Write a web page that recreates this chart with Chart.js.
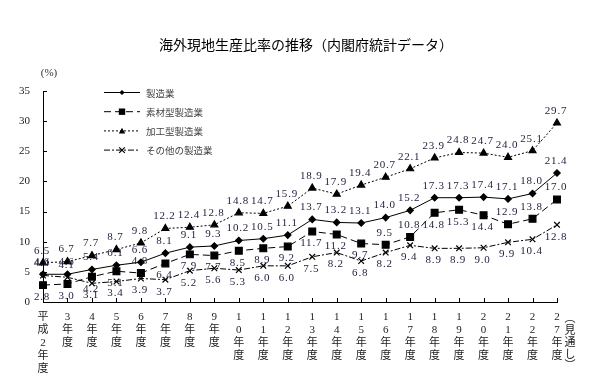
<!DOCTYPE html>
<html>
<head>
<meta charset="utf-8">
<script src="https://cdn.jsdelivr.net/npm/chart.js@4.4.1/dist/chart.umd.min.js"></script>
<style>
html,body{margin:0;padding:0;background:#fff;}
#wrap{width:589px;height:386px;}
</style>
</head>
<body>
<div id="wrap"><canvas id="c" width="589" height="386"></canvas></div>
<script>
// ---- data ----
const chartTitle = '海外現地生産比率の推移（内閣府統計データ）';
const unitLabel = '(%)';
const forecastNote = '見通し';
const categories = ['平成2年度','3年度','4年度','5年度','6年度','7年度','8年度','9年度','10年度','11年度','12年度','13年度','14年度','15年度','16年度','17年度','18年度','19年度','20年度','21年度','22年度','27年度'];
const seriesNames = ['製造業','素材型製造業','加工型製造業','その他の製造業'];
const manufacturing = [4.6,4.6,5.4,6.1,6.6,8.1,9.1,9.3,10.2,10.5,11.1,13.7,13.2,13.1,14.0,15.2,17.3,17.3,17.4,17.1,18.0,21.4];
const materials     = [2.8,3.0,4.2,5.1,4.8,6.4,7.9,7.7,8.5,8.9,9.2,11.7,11.2,9.7,9.5,10.8,14.8,15.3,14.4,12.9,13.8,17.0];
const processing    = [6.5,6.7,7.7,8.7,9.8,12.2,12.4,12.8,14.8,14.7,15.9,18.9,17.9,19.4,20.7,22.1,23.9,24.8,24.7,24.0,25.1,29.7];
const others        = [4.4,4.1,3.1,3.4,3.9,3.7,5.2,5.6,5.3,6.0,6.0,7.5,8.2,6.8,8.2,9.4,8.9,8.9,9.0,9.9,10.4,12.8];
const yMin = 0, yMax = 35, yStep = 5;

// label placement (a = above, b = below), separate from values
const placeManufacturing = Array(22).fill('a');
const placeProcessing = Array(22).fill('a');
const placeMaterials = ['b','b','b','b','a','b','b','b','b','b','b','b','b','b','a','a','b','b','b','a','a','a'];
const placeOthers = ['a','a','b','b','b','b','b','b','b','b','b','b','b','b','b','b','b','b','b','b','b','b'];

const SERIF = "'Liberation Serif','Noto Sans CJK JP'";
const SANS = "'Noto Sans CJK JP'";

const styles = [
  {data: manufacturing, place: placeManufacturing, pointStyle:'rectRot', radius:3.2, dash:[], legendMarker:'diamond'},
  {data: materials, place: placeMaterials, pointStyle:'rect', radius:4.8, dash:[7,4], legendMarker:'square'},
  {data: processing, place: placeProcessing, pointStyle:'triangle', radius:4, dash:[2,2], legendMarker:'triangle'},
  {data: others, place: placeOthers, pointStyle:'crossRot', radius:4, dash:[6,2,2,2], legendMarker:'cross'}
];

const datasets = styles.map((s, i) => ({
  label: seriesNames[i],
  data: s.data,
  borderColor: '#000',
  backgroundColor: '#000',
  borderWidth: 1,
  borderDash: s.dash,
  pointStyle: s.pointStyle,
  pointRadius: s.radius,
  pointBackgroundColor: '#000',
  pointBorderColor: '#000',
  pointBorderWidth: 1.2,
  tension: 0,
  fill: false
}));

function drawMarker(ctx, type, x, y, r) {
  ctx.save();
  ctx.fillStyle = '#000';
  ctx.strokeStyle = '#000';
  ctx.lineWidth = 1.2;
  ctx.setLineDash([]);
  ctx.beginPath();
  if (type === 'diamond') {
    ctx.moveTo(x, y - r); ctx.lineTo(x + r, y); ctx.lineTo(x, y + r); ctx.lineTo(x - r, y); ctx.closePath(); ctx.fill();
  } else if (type === 'square') {
    ctx.rect(x - r, y - r, 2 * r, 2 * r); ctx.fill();
  } else if (type === 'triangle') {
    ctx.moveTo(x, y - r); ctx.lineTo(x + r, y + r * 0.8); ctx.lineTo(x - r, y + r * 0.8); ctx.closePath(); ctx.fill();
  } else {
    ctx.moveTo(x - r, y - r); ctx.lineTo(x + r, y + r); ctx.moveTo(x + r, y - r); ctx.lineTo(x - r, y + r); ctx.stroke();
  }
  ctx.restore();
}

const decorPlugin = {
  id: 'decor',
  afterDraw(chart) {
    const ctx = chart.ctx;
    const xs = chart.scales.x, ys = chart.scales.y;
    const area = chart.chartArea;
    ctx.save();
    // title
    ctx.fillStyle = '#000';
    ctx.font = "14px " + SANS;
    ctx.textAlign = 'center';
    ctx.textBaseline = 'middle';
    ctx.fillText(chartTitle, 306, 45);
    // unit
    ctx.font = "11px " + SERIF;
    ctx.fillStyle = '#333';
    ctx.fillText(unitLabel, 49, 73);
    // inward tick marks
    ctx.strokeStyle = '#000';
    ctx.lineWidth = 1;
    ctx.beginPath();
    for (let i = 0; i < categories.length; i++) {
      const px = Math.round(xs.getPixelForValue(i)) + 0.5;
      ctx.moveTo(px, area.bottom); ctx.lineTo(px, area.bottom - 4);
    }
    for (let v = yMin; v <= yMax; v += yStep) {
      const py = Math.round(ys.getPixelForValue(v)) + 0.5;
      ctx.moveTo(area.left, py); ctx.lineTo(area.left + 4, py);
    }
    ctx.stroke();
    // forecast note, vertical
    const lastX = xs.getPixelForValue(categories.length - 1);
    ctx.font = "11px " + SANS;
    ctx.fillStyle = '#222';
    const vchars = ['︵'].concat(forecastNote.split('')).concat(['︶']);
    vchars.forEach((ch, k) => ctx.fillText(ch, lastX + 13, 318 + k * 11.8));
    // legend
    const lx0 = 104, lx1 = 140, ly0 = 92, lstep = 19.2;
    styles.forEach((s, i) => {
      const y = ly0 + i * lstep;
      ctx.save();
      ctx.strokeStyle = '#000';
      ctx.lineWidth = 1;
      ctx.setLineDash(s.dash);
      ctx.beginPath(); ctx.moveTo(lx0, y + 0.5); ctx.lineTo(lx1, y + 0.5); ctx.stroke();
      ctx.restore();
      const mr = {diamond:2.6, square:3.2, triangle:3.2, cross:2.8}[s.legendMarker];
      drawMarker(ctx, s.legendMarker, (lx0 + lx1) / 2, y + 0.5, mr);
      ctx.font = "9.5px " + SANS;
      ctx.fillStyle = '#444';
      ctx.textAlign = 'left';
      ctx.fillText(seriesNames[i], 146, y + 1);
    });
    ctx.restore();
  },
  afterDatasetsDraw(chart) {
    const ctx = chart.ctx;
    ctx.save();
    ctx.font = "11px " + SERIF;
    ctx.fillStyle = '#1e1e3c';
    ctx.textAlign = 'center';
    ctx.textBaseline = 'middle';
    try { ctx.letterSpacing = '0.8px'; } catch (e) {}
    styles.forEach((s, di) => {
      const meta = chart.getDatasetMeta(di);
      meta.data.forEach((pt, i) => {
        const v = s.data[i];
        const dy = s.place[i] === 'a' ? -12 : 12;
        ctx.fillText(v.toFixed(1), pt.x - 1, pt.y + dy);
      });
    });
    ctx.restore();
  }
};

new Chart(document.getElementById('c'), {
  type: 'line',
  data: { labels: categories, datasets },
  options: {
    responsive: false,
    animation: false,
    devicePixelRatio: 1,
    layout: { padding: { top: 91, right: 32, left: 0, bottom: 0 } },
    plugins: { legend: { display: false }, title: { display: false }, tooltip: { enabled: false } },
    scales: {
      x: {
        type: 'category',
        offset: false,
        grid: { display: false, drawTicks: false },
        border: { display: true, color: '#000', width: 1 },
        ticks: {
          autoSkip: false, maxRotation: 0, minRotation: 0, padding: 9,
          color: '#222',
          font: { family: SERIF, size: 11, lineHeight: 1.18 },
          callback: (v, i) => categories[i].split('')
        },
        afterFit: (s) => { s.height = 84; }
      },
      y: {
        min: yMin, max: yMax,
        grid: { display: false, drawTicks: false },
        border: { display: true, color: '#000', width: 1 },
        ticks: { stepSize: yStep, padding: 13, color: '#222', font: { family: SERIF, size: 11 } },
        afterFit: (s) => { s.width = 43; }
      }
    }
  },
  plugins: [decorPlugin]
});
</script>
</body>
</html>
